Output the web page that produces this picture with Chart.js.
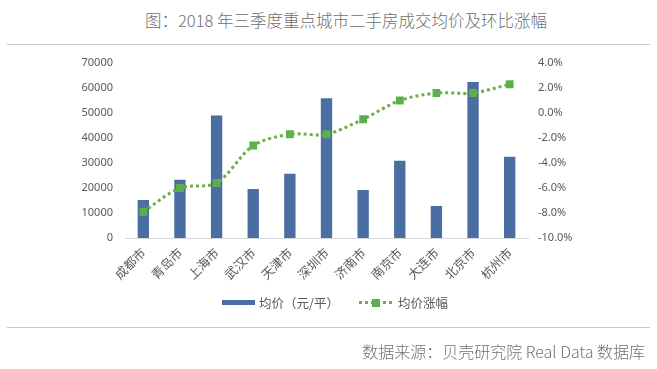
<!DOCTYPE html>
<html lang="zh">
<head>
<meta charset="UTF-8" />
<title>2018 年三季度重点城市二手房成交均价及环比涨幅</title>
<script src="https://cdn.jsdelivr.net/npm/chart.js"></script>
<style>
  html, body { margin: 0; padding: 0; background: #fff; }
  #wrap { position: relative; width: 657px; height: 369px; overflow: hidden;
          font-family: "Noto Sans", "Noto Sans CJK SC", sans-serif; color: #595959; }
  #title { position: absolute; top: 8px; left: 0; width: 692px; text-align: center;
           font-size: 16.5px; font-family: "Noto Sans CJK SC", sans-serif; font-weight: 300; color: #707070; }
  .rule { position: absolute; left: 7px; width: 643px; height: 0; border-top: 1px solid #c8c8c8; }
  #source { position: absolute; right: 12px; top: 339px; font-size: 16px;
            font-family: "Noto Sans CJK SC", sans-serif; font-weight: 300; color: #707070; }
  #chart { position: absolute; left: 0; top: 0; }
  #legend { position: absolute; top: 293px; left: 222px; font-size: 12.5px;
            font-family: "Noto Sans CJK SC", sans-serif; display: flex; align-items: center; }
  .sw-bar { width: 33px; height: 5px; background: #4a6ea2; margin-right: 4px; }
  .sw-line { position: relative; width: 33px; height: 8px; margin: 0 6px 0 20px;
             background: repeating-linear-gradient(90deg, #70ad47 0 3px, transparent 3px 6px);
             background-size: 33px 3px; background-repeat: no-repeat; background-position: 0 50%; }
  .sw-line::after { content: ""; position: absolute; left: 13px; top: 0; width: 8px; height: 8px; background: #5cb04a; }
</style>
</head>
<body>
<div id="wrap">
  <div id="title">图：2018 年三季度重点城市二手房成交均价及环比涨幅</div>
  <div class="rule" style="top:44px"></div>
  <canvas id="chart" width="657" height="369"></canvas>
  <div id="legend">
    <span class="sw-bar"></span><span>均价（元/平）</span>
    <span class="sw-line"></span><span>均价涨幅</span>
  </div>
  <div class="rule" style="top:327px"></div>
  <div id="source">数据来源：贝壳研究院 Real Data 数据库</div>
</div>

<script>
  const cities = ['成都市', '青岛市', '上海市', '武汉市', '天津市', '深圳市', '济南市', '南京市', '大连市', '北京市', '杭州市'];
  const avgPrice = [15200, 23300, 49000, 19600, 25700, 55900, 19200, 30900, 12800, 62400, 32500];
  const priceChange = [-7.9, -6.0, -5.6, -2.6, -1.7, -1.7, -0.5, 1.0, 1.6, 1.6, 2.3];

  const tickFont = { family: '"Noto Sans", "Noto Sans CJK SC", sans-serif', size: 11 };
  const catFont = { family: '"Noto Sans CJK SC", sans-serif', size: 12.5 };

  new Chart(document.getElementById('chart').getContext('2d'), {
    data: {
      labels: cities,
      datasets: [
        {
          type: 'line',
          label: '均价涨幅',
          data: priceChange,
          yAxisID: 'y1',
          order: 0,
          borderColor: '#70ad47',
          borderWidth: 3,
          borderDash: [3, 3],
          tension: 0.3,
          fill: false,
          pointStyle: 'rect',
          pointRadius: 5.5,
          pointBackgroundColor: '#5cb04a',
          pointBorderColor: '#5cb04a',
          pointBorderWidth: 0
        },
        {
          type: 'bar',
          label: '均价（元/平）',
          data: avgPrice,
          yAxisID: 'y',
          order: 1,
          backgroundColor: '#4a6ea2',
          barPercentage: 0.31,
          categoryPercentage: 1
        }
      ]
    },
    options: {
      responsive: false,
      animation: false,
      layout: { padding: { top: 63, left: 0, right: 0, bottom: 0 } },
      plugins: { legend: { display: false }, tooltip: { enabled: false } },
      scales: {
        x: {
          grid: { display: false, drawTicks: false },
          border: { display: true, color: '#d9d9d9' },
          ticks: { color: '#595959', font: catFont, minRotation: 45, maxRotation: 45, padding: 7 },
          afterFit: s => { s.height = 131; }
        },
        y: {
          position: 'left',
          min: 0, max: 70000,
          grid: { display: false, drawTicks: false },
          border: { display: false },
          ticks: { stepSize: 10000, color: '#595959', font: tickFont, padding: 12,
                   callback: v => String(v) },
          afterFit: s => { s.width = 125; }
        },
        y1: {
          position: 'right',
          min: -10, max: 4,
          grid: { display: false, drawTicks: false },
          border: { display: false },
          ticks: { stepSize: 2, color: '#595959', font: tickFont, padding: 10,
                   callback: v => v.toFixed(1) + '%' },
          afterFit: s => { s.width = 129; }
        }
      }
    }
  });
</script>
</body>
</html>
